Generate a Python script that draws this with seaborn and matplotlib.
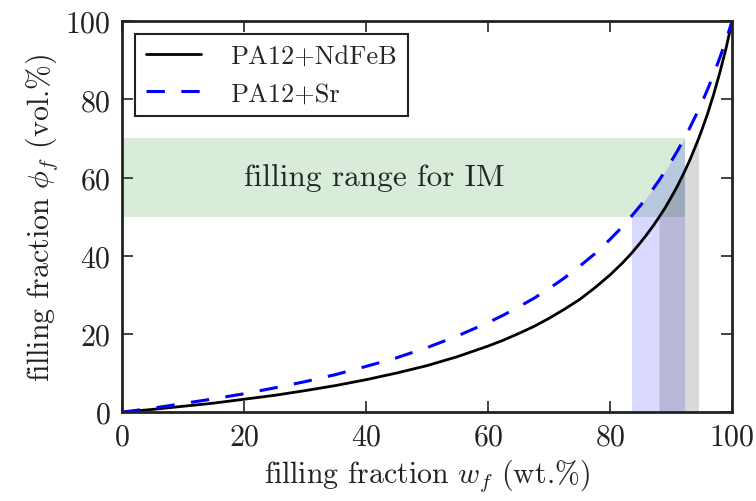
import numpy as np
import pandas as pd
import matplotlib
matplotlib.use('Agg')
import seaborn as sns
import matplotlib.pyplot as plt

# filling fraction in wt.% and the matching vol.%
wt = [0, 5, 10, 15, 20, 25, 30, 35, 40, 45, 50, 55, 60, 62.5, 65, 67.5, 70,
      72.5, 75, 77.5, 80, 82, 83.5, 85, 86, 87, 88, 89, 90, 91, 92.2, 93,
      94.5, 95, 96, 97, 98, 99, 100]
vol_ndfeb = [0, 0.7, 1.5, 2.3, 3.3, 4.3, 5.5, 6.8, 8.3, 10.0, 11.9, 14.2, 16.9,
             18.4, 20.1, 21.9, 24.0, 26.3, 28.8, 31.8, 35.1, 38.1, 40.6, 43.4,
             45.4, 47.5, 49.8, 52.2, 54.9, 57.7, 61.5, 64.2, 69.9, 72.0, 76.4,
             81.4, 86.9, 93.0, 100]
vol_sr = [0, 1.0, 2.2, 3.4, 4.7, 6.2, 7.8, 9.6, 11.7, 13.9, 16.5, 19.5, 22.9,
          24.8, 26.9, 29.1, 31.6, 34.3, 37.3, 40.5, 44.2, 47.4, 50.1, 52.9,
          54.9, 57.0, 59.2, 61.6, 64.1, 66.7, 70.1, 72.5, 77.3, 79.0, 82.6,
          86.5, 90.7, 95.1, 100]

# injection moulding range (vol.%) and matching wt.% limits
im_range = [50, 70]
sr_wt = [83.5, 92.2]
ndfeb_wt = [88, 94.5]

sns.set_style("ticks")
plt.rcParams['font.family'] = 'serif'
plt.rcParams['font.serif'] = ['cmr10']
plt.rcParams['mathtext.fontset'] = 'cm'
plt.rcParams['axes.formatter.use_mathtext'] = True
plt.rcParams['axes.unicode_minus'] = False

df = pd.DataFrame({'wt': wt, 'ndfeb': vol_ndfeb, 'sr': vol_sr})
x = df['wt'].values

fig = plt.figure(figsize=(7.56, 5.02), dpi=100)
ax = fig.add_axes([0.1614, 0.177, 0.807, 0.779])

ax.fill_betweenx(im_range, 0, sr_wt[1], color='g', alpha=0.15, lw=0)
ax.fill_between(x, 0, df['sr'], where=(x >= sr_wt[0]) & (x <= sr_wt[1]),
                color='b', alpha=0.15, lw=0)
ax.fill_between(x, 0, df['ndfeb'], where=(x >= ndfeb_wt[0]) & (x <= ndfeb_wt[1]),
                color='k', alpha=0.15, lw=0)

sns.lineplot(data=df, x='wt', y='ndfeb', color='k', lw=2, label='PA12+NdFeB', ax=ax)
sns.lineplot(data=df, x='wt', y='sr', color='b', lw=2.2, linestyle=(0, (6, 5.4)),
             label='PA12+Sr', ax=ax)

ax.text(20, 60, 'filling range for IM', fontsize=22.5, va='center', ha='left')

ax.set_xlim(0, 100)
ax.set_ylim(0, 100)
ax.set_xticks([0, 20, 40, 60, 80, 100])
ax.set_yticks([0, 20, 40, 60, 80, 100])
ax.tick_params(direction='in', top=True, right=True, length=8, width=1.2,
               labelsize=21.5, pad=8, colors='#222222')
for s in ax.spines.values():
    s.set_linewidth(2)
    s.set_color('#222222')
ax.set_xlabel(r'filling fraction $w_f$ (wt.%)', fontsize=21.5, color='#222222')
ax.set_ylabel(r'filling fraction $\phi_f$ (vol.%)', fontsize=21.5, color='#222222')

leg = ax.legend(loc='upper left', fontsize=19, fancybox=False, framealpha=1,
                edgecolor='#222222', handlelength=2.1, handletextpad=1.1,
                borderaxespad=0.5)
leg.get_frame().set_linewidth(1.5)

fig.savefig('out.png', dpi=100)
